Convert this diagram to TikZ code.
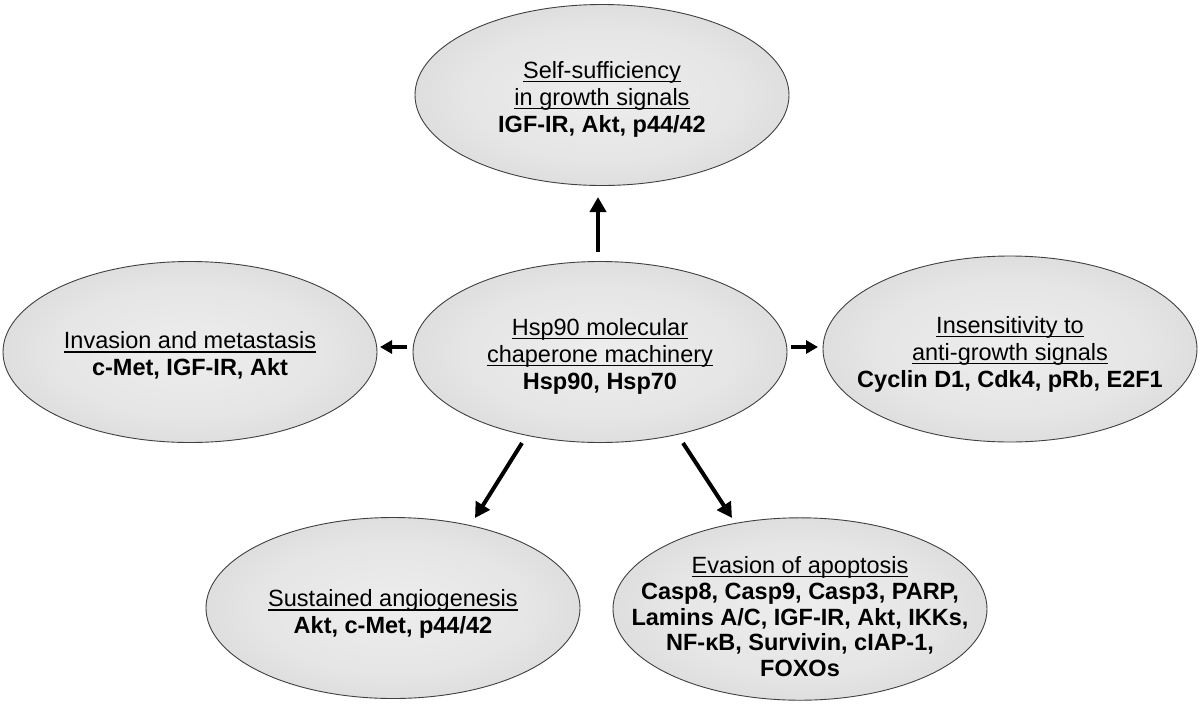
\documentclass[tikz,border=0pt]{standalone}
\usepackage{fontspec}
\setmainfont{Liberation Sans}
\usetikzlibrary{shapes.geometric,arrows.meta}
\pgfdeclareradialshading{ellshade}{\pgfpoint{0bp}{0bp}}{color(0bp)=(black!7); color(18bp)=(black!10); color(38bp)=(black!18); color(50bp)=(black!33)}
\newcommand\ulx[1]{\setbox0\hbox{#1}\rlap{\raisebox{-3.6pt}{\rule{\wd0}{1.3pt}}}\box0}
\newcommand\tx[2][-5pt]{\makebox[0pt]{\raisebox{#1}[\height][\depth]{\begin{tabular}{@{}c@{}}#2\end{tabular}}}}
\begin{document}
\begin{tikzpicture}[x=1pt,y=-1pt,
  bub/.style={ellipse, draw=black!75, line width=0.9pt, shading=ellshade,
    minimum width=374pt, minimum height=181pt, inner sep=0pt,
    font=\fontsize{23.5}{27}\selectfont},
  arr/.style={line width=4pt, -{Triangle[length=15pt,width=16pt]}},
  sarr/.style={line width=4pt, -{Triangle[length=12pt,width=13pt]}}]
\fill[white] (0,0) rectangle (1200,705);
\useasboundingbox (0,0) rectangle (1200,705);
\node[bub] (self) at (602,95) {\tx{\ulx{Self-sufficiency}\\\ulx{in growth signals}\\\textbf{IGF-IR, Akt, p44/42}}};
\node[bub] (hsp) at (600,352) {\tx{\ulx{Hsp90 molecular}\\\ulx{chaperone machinery}\\\textbf{Hsp90, Hsp70}}};
\node[bub] (inv) at (190,352) {\tx{\ulx{Invasion and metastasis}\\\textbf{c-Met, IGF-IR, Akt}}};
\node[bub, minimum height=186pt] (ins) at (1010,349) {\tx[-6pt]{\ulx{Insensitivity to}\\\ulx{anti-growth signals}\\\textbf{Cyclin D1, Cdk4, pRb, E2F1}}};
\node[bub] (angio) at (393,608) {\tx[-7pt]{\ulx{Sustained angiogenesis}\\\textbf{Akt, c-Met, p44/42}}};
\node[bub, font=\fontsize{23.5}{25.8}\selectfont] (apop) at (800,609) {\tx[-11pt]{\ulx{Evasion of apoptosis}\\\textbf{Casp8, Casp9, Casp3, PARP,}\\\textbf{Lamins A/C, IGF-IR, Akt, IKKs,}\\\textbf{NF-κB, Survivin, cIAP-1,}\\\textbf{FOXOs}}};
\draw[arr] ([shift={(-2,-100)}]hsp.center) -- ([shift={(-4,102)}]self.center);
\draw[sarr] ([shift={(-193,-5)}]hsp.center) -- ([shift={(190,-5)}]inv.center);
\draw[sarr] ([shift={(191,-5)}]hsp.center) -- ([shift={(-192,-2)}]ins.center);
\draw[arr] ([shift={(-78,91)}]hsp.center) -- ([shift={(82,-90)}]angio.center);
\draw[arr] ([shift={(83,91)}]hsp.center) -- ([shift={(-68,-91)}]apop.center);
\end{tikzpicture}
\end{document}
